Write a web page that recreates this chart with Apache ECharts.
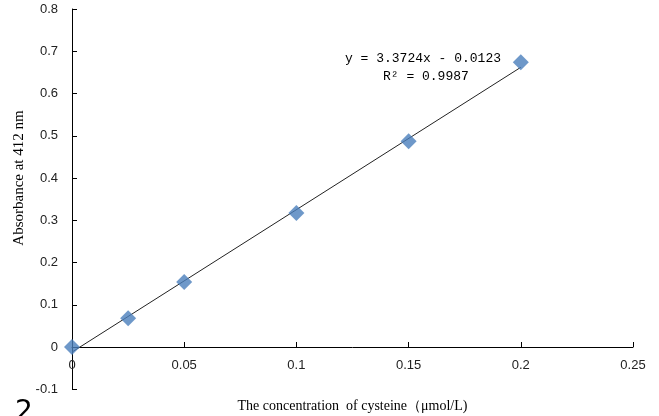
<!DOCTYPE html>
<html>
<head>
<meta charset="utf-8">
<script src="https://cdn.jsdelivr.net/npm/echarts@6/dist/echarts.min.js"></script>
<style>
  html, body { margin: 0; padding: 0; background: #fff; }
  #main { width: 659px; height: 416px; }
</style>
</head>
<body>
<div id="main"></div>
<script>
// measured points
var concentration = [0, 0.025, 0.05, 0.1, 0.15, 0.2];
var absorbance = [0, 0.068, 0.154, 0.317, 0.487, 0.674];
// trendline ends
var fitX = [0, 0.2];
var fitY = [-0.012, 0.662];
var equationText = 'y = 3.3724x - 0.0123';
var r2Text = 'R² = 0.9987';

var chart = echarts.init(document.getElementById('main'));

var labelFont = {
  fontFamily: 'Liberation Sans',
  fontSize: 13,
  color: '#222'
};

var option = {
  animation: false,
  // main plot (0 .. 0.8) and the short strip under the x axis (-0.1 .. 0)
  grid: [
    { left: 72, right: 26, top: 9, bottom: 69, outerBoundsMode: 'none' },
    { left: 72, right: 26, top: 347, bottom: 27, outerBoundsMode: 'none' }
  ],
  xAxis: [
    {
      gridIndex: 0,
      type: 'value',
      min: 0,
      max: 0.25,
      interval: 0.05,
      name: 'The concentration  of cysteine（μmol/L)',
      nameLocation: 'middle',
      nameGap: 52,
      nameTextStyle: {
        fontFamily: 'Liberation Serif',
        fontSize: 14,
        color: '#000'
      },
      axisLine: { onZero: false, lineStyle: { color: '#000', width: 1 } },
      axisTick: { inside: true, length: 5, lineStyle: { color: '#000' } },
      axisLabel: Object.assign({ margin: 12 }, labelFont),
      splitLine: { show: false }
    },
    {
      gridIndex: 1,
      type: 'value',
      min: 0,
      max: 0.25,
      show: false
    }
  ],
  yAxis: [
    {
      gridIndex: 0,
      type: 'value',
      min: 0,
      max: 0.8,
      interval: 0.1,
      name: 'Absorbance at 412 nm',
      nameLocation: 'middle',
      nameGap: 45,
      nameTextStyle: {
        fontFamily: 'Liberation Serif',
        fontSize: 15,
        color: '#000'
      },
      axisLine: { show: true, onZero: false, lineStyle: { color: '#000', width: 1 } },
      axisTick: { show: true, inside: true, length: 5, lineStyle: { color: '#000' } },
      axisLabel: Object.assign({
        margin: 14,
        formatter: function (v) { return Math.round(v * 10) / 10; }
      }, labelFont),
      splitLine: { show: false }
    },
    {
      gridIndex: 1,
      type: 'value',
      min: -0.1,
      max: 0,
      interval: 0.1,
      axisLine: { show: true, onZero: false, lineStyle: { color: '#000', width: 1 } },
      axisTick: { show: true, inside: true, length: 5, lineStyle: { color: '#000' } },
      axisLabel: Object.assign({
        margin: 14,
        showMaxLabel: false,
        formatter: function (v) { return v < 0 ? Math.round(v * 10) / 10 : ''; }
      }, labelFont),
      splitLine: { show: false }
    }
  ],
  graphic: [
    {
      type: 'text',
      left: 345,
      top: 52,
      style: {
        text: equationText,
        font: '13px "Liberation Mono"',
        fill: '#000'
      }
    },
    {
      type: 'text',
      left: 383,
      top: 70,
      style: {
        text: r2Text,
        font: '13px "Liberation Mono"',
        fill: '#000'
      }
    },
    {
      type: 'text',
      left: 15,
      top: 399,
      style: {
        text: '2',
        font: '28px "DejaVu Sans"',
        fill: '#000'
      }
    }
  ],
  series: [
    {
      name: 'trend',
      type: 'line',
      xAxisIndex: 0,
      yAxisIndex: 0,
      data: fitX.map(function (x, i) { return [x, fitY[i]]; }),
      symbol: 'none',
      clip: false,
      lineStyle: { color: '#222', width: 1 },
      z: 1
    },
    {
      name: 'cysteine',
      type: 'scatter',
      xAxisIndex: 0,
      yAxisIndex: 0,
      data: concentration.map(function (x, i) { return [x, absorbance[i]]; }),
      symbol: 'diamond',
      symbolSize: 16,
      clip: false,
      itemStyle: { color: '#4a7ebb' },
      z: 2
    }
  ]
};

chart.setOption(option);
</script>
</body>
</html>
